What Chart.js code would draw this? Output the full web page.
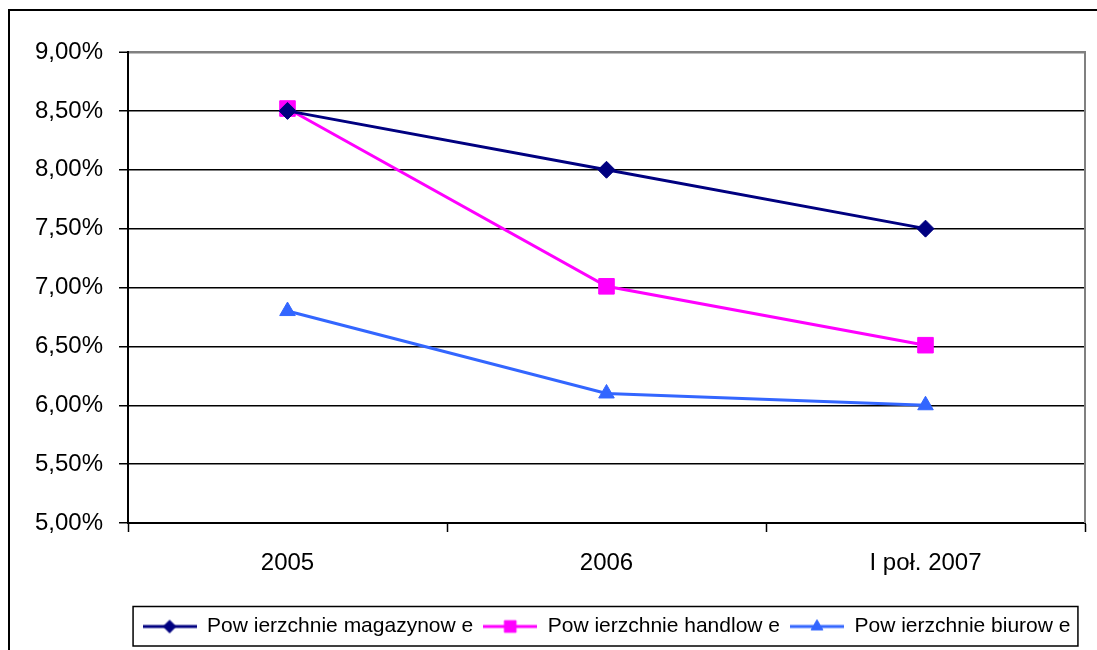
<!DOCTYPE html>
<html>
<head>
<meta charset="utf-8">
<script src="https://cdn.jsdelivr.net/npm/chart.js@4"></script>
<style>
  html, body { margin: 0; padding: 0; background: #fff; }
  #wrap { width: 1097px; height: 650px; position: relative; }
</style>
</head>
<body>
<div id="wrap"><canvas id="chart"></canvas></div>
<script>
const categories = ['2005', '2006', 'I poł. 2007'];
const seriesNames = ['Pow ierzchnie magazynow e', 'Pow ierzchnie handlow e', 'Pow ierzchnie biurow e'];
const magazynowe = [8.5, 8.0, 7.5];
const handlowe = [8.52, 7.01, 6.51];
const biurowe = [6.8, 6.1, 6.0];
const yTicks = [5, 5.5, 6, 6.5, 7, 7.5, 8, 8.5, 9];

const FONT = "Arial, 'Liberation Sans', sans-serif";

// small line + marker picture used as legend symbol
function legendIcon(color, style, radius) {
    const c = document.createElement('canvas');
    c.width = 54;
    c.height = 20;
    const ctx = c.getContext('2d');
    ctx.strokeStyle = color;
    ctx.lineWidth = 3;
    ctx.beginPath();
    ctx.moveTo(0, 10);
    ctx.lineTo(54, 10);
    ctx.stroke();
    ctx.fillStyle = color;
    ctx.lineWidth = 1;
    Chart.helpers.drawPoint(ctx, { pointStyle: style, radius: radius, rotation: 0, borderWidth: 1 }, 27, 10);
    return c;
}

const frame = {
    id: 'frame',
    beforeDraw(chart) {
        const ctx = chart.ctx;
        ctx.save();
        ctx.fillStyle = '#fff';
        ctx.fillRect(0, 0, chart.width, chart.height);
        ctx.restore();
    },
    afterDraw(chart) {
        const ctx = chart.ctx;
        const a = chart.chartArea;
        ctx.save();
        // right border of plot area
        ctx.strokeStyle = '#808080';
        ctx.lineWidth = 2;
        ctx.beginPath();
        ctx.moveTo(a.right, a.top - 1);
        ctx.lineTo(a.right, a.bottom);
        ctx.stroke();
        // outer chart border
        ctx.strokeStyle = '#000';
        ctx.lineWidth = 2;
        ctx.strokeRect(9, 10, 1200, 1000);
        // legend box
        const hb = chart.legend.legendHitBoxes;
        if (hb && hb.length) {
            const first = hb[0], last = hb[hb.length - 1];
            const left = first.left - 10;
            const right = last.left + last.width + 7;
            ctx.lineWidth = 1.5;
            ctx.strokeRect(left + 0.5, chart.legend.top + 0.5, right - left, chart.legend.height - 1.5);
        }
        ctx.restore();
    }
};

const datasets = [
    { label: seriesNames[0], data: magazynowe, color: '#000080', style: 'rectRot', r: 8.5 },
    { label: seriesNames[1], data: handlowe, color: '#FF00FF', style: 'rect', r: 11 },
    { label: seriesNames[2], data: biurowe, color: '#3366FF', style: 'triangle', r: 9 }
].map(d => ({
    label: d.label,
    data: d.data,
    borderColor: d.color,
    backgroundColor: d.color,
    borderWidth: 3,
    pointStyle: d.style,
    pointRadius: d.r,
    pointHoverRadius: d.r,
    pointBorderWidth: 1,
    pointBackgroundColor: d.color,
    pointBorderColor: d.color,
    tension: 0,
    icon: legendIcon(d.color, d.style, d.r * 0.75)
}));

new Chart(document.getElementById('chart'), {
    type: 'line',
    data: { labels: categories, datasets: datasets },
    options: {
        responsive: true,
        maintainAspectRatio: false,
        animation: false,
        layout: { padding: { left: 10, top: 52, right: 11, bottom: 3 } },
        plugins: {
            tooltip: { enabled: false },
            legend: {
                position: 'bottom',
                fullSize: false,
                labels: {
                    usePointStyle: true,
                    pointStyleWidth: 54,
                    padding: 10,
                    color: '#000',
                    font: { family: FONT, size: 21 },
                    generateLabels(chart) {
                        const items = Chart.defaults.plugins.legend.labels.generateLabels(chart);
                        items.forEach(it => { it.pointStyle = chart.data.datasets[it.datasetIndex].icon; });
                        return items;
                    }
                }
            }
        },
        scales: {
            x: {
                offset: true,
                grid: {
                    offset: true,
                    drawOnChartArea: false,
                    drawTicks: true,
                    tickLength: 9,
                    tickColor: '#000',
                    tickWidth: 1.5
                },
                border: { color: '#000', width: 2 },
                ticks: {
                    color: '#000',
                    padding: 17,
                    maxRotation: 0,
                    font: { family: FONT, size: 24 }
                },
                afterFit(scale) { scale.height = 83; }
            },
            y: {
                min: 5,
                max: 9,
                afterBuildTicks(scale) { scale.ticks = yTicks.map(v => ({ value: v })); },
                grid: {
                    color: ctx => ctx.tick && ctx.tick.value === 9 ? '#808080' : '#000',
                    lineWidth: ctx => ctx.tick && ctx.tick.value === 9 ? 2.5 : 1.5,
                    tickLength: 9,
                    tickColor: '#000',
                    tickWidth: 1.5
                },
                border: { color: '#000', width: 2 },
                ticks: {
                    color: '#000',
                    padding: 16,
                    font: { family: FONT, size: 24 },
                    callback: v => v.toFixed(2).replace('.', ',') + '%'
                },
                afterFit(scale) { scale.width = 118; }
            }
        }
    },
    plugins: [frame]
});
</script>
</body>
</html>
